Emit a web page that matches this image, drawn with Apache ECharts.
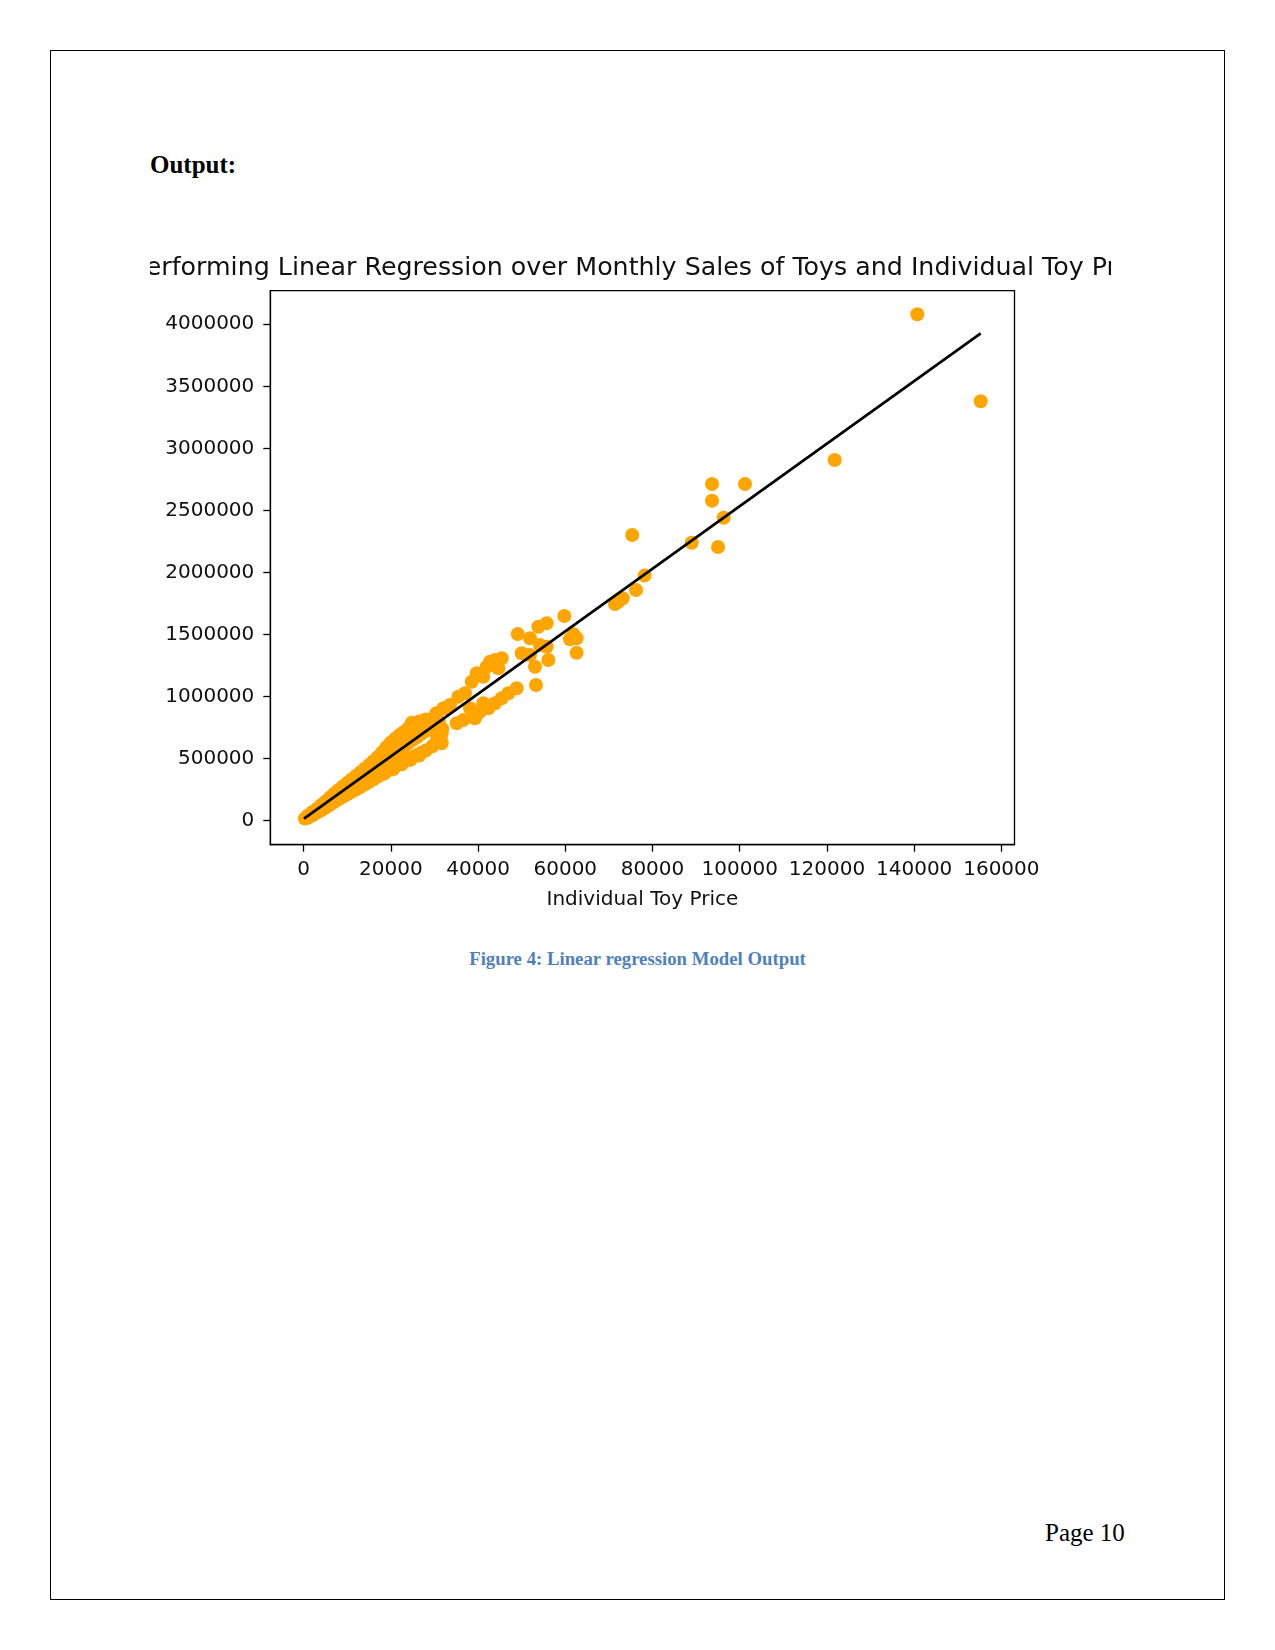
<!DOCTYPE html>
<html>
<head>
<meta charset="utf-8">
<script src="https://cdn.jsdelivr.net/npm/echarts@6/dist/echarts.min.js"></script>
<style>
  html, body { margin:0; padding:0; background:#fff; }
  #page { position:relative; width:1275px; height:1650px; background:#fff; overflow:hidden; }
  #border { position:absolute; left:50px; top:50px; width:1173px; height:1548px; border:1.3px solid #000; }
  .txt { position:absolute; white-space:nowrap; line-height:1; font-family:"Liberation Serif","Times New Roman",serif; }
  #output { left:150px; top:152px; font-size:25px; font-weight:bold; color:#000; }
  #caption { left:0; width:1275px; text-align:center; top:950px; font-size:18.75px; font-weight:bold; color:#4F81BD; }
  #pagenum { left:1045px; top:1520px; font-size:25px; color:#000; }
  #chart { position:absolute; left:150px; top:240px; width:961px; height:680px; }
</style>
</head>
<body>
<div id="page">
  <div id="border"></div>
  <div id="output" class="txt">Output:</div>
  <div id="chart"></div>
  <div id="caption" class="txt">Figure 4: Linear regression Model Output</div>
  <div id="pagenum" class="txt">Page 10</div>
</div>
<script>
// ---- data ----
const chartTitle = "Performing Linear Regression over Monthly Sales of Toys and Individual Toy Price";
const xAxisName = "Individual Toy Price";

const xTicks = [0, 20000, 40000, 60000, 80000, 100000, 120000, 140000, 160000];
const yTicks = [0, 500000, 1000000, 1500000, 2000000, 2500000, 3000000, 3500000, 4000000];

// dense band (x in units, y in units)
const bandX = [
  300,
  1000,1000, 2000,2000, 3000,3000,3000, 4000,4000,4000, 5000,5000,5000,
  6000,6000,6000, 7000,7000,7000, 8000,8000,8000, 9000,9000,9000,
  10000,10000,10000, 11000,11000,11000, 12000,12000,12000, 13000,13000,13000,
  14000,14000,14000, 15000,15000,15000, 16000,16000,16000, 17000,17000,17000,
  18000,18000,18000, 19000,19000,19000, 20000,20000,20000, 21000,21000,21000,
  22000,22000,22000, 23000,23000,23000, 24000,24000,24000, 25000,25000,25000,
  26000,26000,26000, 27000,27000,27000, 28000,28000,28000,
  18500, 20500, 22500, 24500, 26500
];
const bandY = [
  18000,
  42000,24000, 68000,44000, 95000,80000,63000, 124000,105000,84000, 154000,130000,104000,
  186000,155000,126000, 218000,182000,150000, 248000,208000,172000, 276000,235000,192000,
  304000,260000,212000, 332000,285000,232000, 360000,310000,252000, 388000,335000,272000,
  418000,362000,292000, 448000,390000,312000, 480000,415000,334000, 514000,440000,355000,
  550000,465000,376000, 592000,490000,398000, 630000,520000,418000, 660000,548000,438000,
  690000,575000,458000, 715000,600000,478000, 745000,625000,498000, 775000,650000,515000,
  790000,675000,530000, 800000,700000,548000, 815000,725000,565000,
  380000, 415000, 455000, 490000, 525000
];

// cluster 28k - 50k
const midX = [
  24800, 26500, 28000, 29500, 30500, 31500, 31800, 30000, 30400, 32000, 31000, 29000,
  31670, 31670, 33570, 32420, 35480, 37010, 38550, 35110, 36620, 39300, 40450, 38160,
  42350, 41210, 43890, 45420, 46940, 48860, 39690, 41210, 41980, 42740, 43890, 45420, 44650
];
const midY = [
  790000, 800000, 810000, 600000, 640000, 680000, 740000, 720000, 865000, 905000, 800000, 760000,
  704300, 623700, 932300, 905700, 999200, 1026600, 1120100, 784900, 811400, 825200, 878300, 905700,
  905700, 946000, 946000, 986300, 1026600, 1066900, 1187700, 1160300, 1240900, 1281200, 1294900, 1308600, 1228000
];

// cluster 49k - 80k and outliers
const upperX = [
  49090, 50010, 51910, 51910, 53060, 53290, 53820, 54210, 55740, 55740, 56110, 59780,
  61080, 61840, 62610, 62610, 71400, 72160, 73170, 76220, 78190, 75350,
  88990, 93650, 93650, 95020, 96330, 101210, 121780, 140720, 155260
];
const upperY = [
  1504400, 1348900, 1469700, 1335200, 1240900, 1093500, 1563300, 1415800, 1590600, 1402100, 1294900, 1649500,
  1461600, 1504400, 1469700, 1353800, 1746000, 1764700, 1792000, 1859000, 1975000, 2302200,
  2240100, 2713200, 2578600, 2205500, 2441600, 2713200, 2906500, 4080600, 3379500
];

// regression line
const fitX = [100, 155260];
const fitY = [16000, 3927500];

// ---- chart ----
const priceX = bandX.concat(midX, upperX);
const salesY = bandY.concat(midY, upperY);
const scatterData = priceX.map((x, i) => [x, salesY[i]]);
const lineData = fitX.map((x, i) => [x, fitY[i]]);

const FONT = 'DejaVu Sans';
const chart = echarts.init(document.getElementById('chart'), null, { renderer: 'canvas' });
chart.setOption({
  animation: false,
  backgroundColor: 'transparent',
  textStyle: { fontFamily: FONT },
  graphic: [{
    type: 'text',
    x: 492.4, y: 28.9, z: 10,
    style: {
      text: chartTitle,
      font: '25.3px "DejaVu Sans"',
      fill: '#111',
      align: 'center',
      verticalAlign: 'middle'
    }
  }],
  grid: {
    left: 120.3, top: 50.7, width: 744.2, height: 554,
    show: true, borderColor: '#000', borderWidth: 1.3, backgroundColor: 'transparent',
    containLabel: false, outerBoundsMode: 'none'
  },
  xAxis: {
    type: 'value', min: -7636, max: 163010, position: 'bottom',
    axisLine: { show: true, onZero: false, lineStyle: { color: '#000', width: 1.3 } },
    axisTick: { show: true, inside: false, length: 7, customValues: xTicks, lineStyle: { color: '#000', width: 1.3 } },
    axisLabel: { show: true, customValues: xTicks, margin: 15, color: '#111', fontSize: 20, fontFamily: FONT, formatter: v => String(v) },
    splitLine: { show: false },
    name: xAxisName, nameLocation: 'middle', nameGap: 45,
    nameTextStyle: { color: '#111', fontSize: 20, fontFamily: FONT }
  },
  yAxis: {
    type: 'value', min: -193400, max: 4270700,
    axisLine: { show: true, onZero: false, lineStyle: { color: '#000', width: 1.3 } },
    axisTick: { show: true, inside: false, length: 7, customValues: yTicks, lineStyle: { color: '#000', width: 1.3 } },
    axisLabel: { show: true, customValues: yTicks, margin: 16, color: '#111', fontSize: 20, fontFamily: FONT, formatter: v => String(v) },
    splitLine: { show: false }
  },
  series: [
    {
      type: 'scatter', data: scatterData, symbol: 'circle', symbolSize: 14,
      itemStyle: { color: '#FFA500', opacity: 1 }, z: 2
    },
    {
      type: 'line', data: lineData, symbol: 'none', showSymbol: false,
      lineStyle: { color: '#000', width: 2.7 }, z: 3
    }
  ]
});
</script>
</body>
</html>
